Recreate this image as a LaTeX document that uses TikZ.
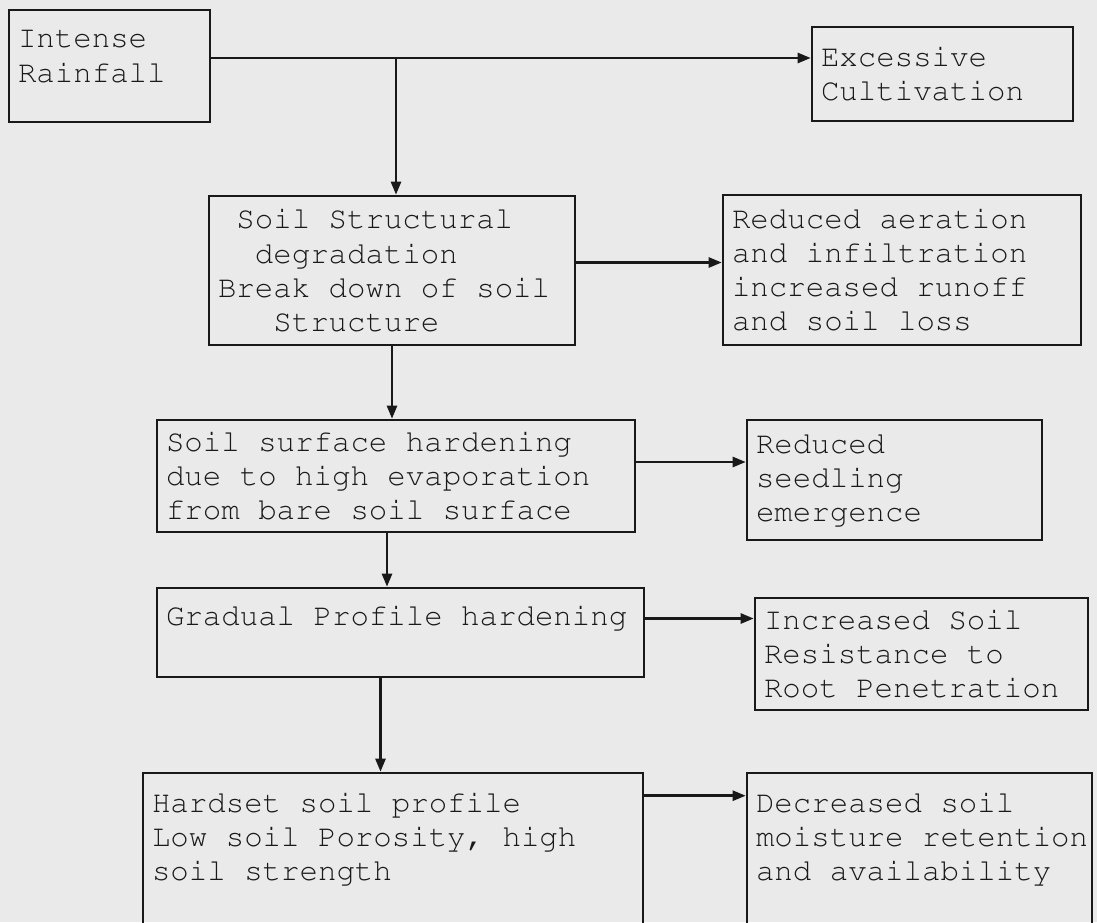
\documentclass[tikz,border=0pt]{standalone}
\usepackage[T1]{fontenc}
\usepackage{courier}
\usetikzlibrary{arrows.meta,calc}
\definecolor{paper}{RGB}{234,234,234}
\definecolor{ink}{RGB}{25,25,25}
\newcommand{\boxfont}{\ttfamily\fontsize{17.5}{19.4}\selectfont\frenchspacing}
\begin{document}
\begin{tikzpicture}[x=0.02cm, y=-0.02cm,
    box/.style={rectangle, draw=ink, line width=1.5pt, inner xsep=0.18cm, inner ysep=0pt, align=left, text=ink, font=\boxfont,
      execute at begin node={\spaceskip=\fontcharwd\font`x\relax\xspaceskip=\spaceskip}},
    arrow/.style={-{Triangle[length=0.26cm, width=0.2cm]}, draw=ink, line width=1.4pt}
]
\clip (0,0) rectangle (1097,922);
\fill[paper] (0,0) rectangle (1097,922);

\node[box, minimum width=4.02cm, minimum height=2.24cm, text width=3.66cm] (rain) at (109.5,66) {Intense\\Rainfall\\[-0.3cm]\mbox{}};
\node[box, minimum width=5.22cm, minimum height=1.88cm, text width=4.86cm] (cult) at (942.5,74) {Excessive\\Cultivation};

\node[box, minimum width=7.32cm, minimum height=2.98cm, text width=6.96cm] (struct) at (392,270.5) {\phantom{x}Soil Structural\\\phantom{xx}degradation\\Break down of soil\\\phantom{xxx}Structure};
\node[box, minimum width=7.16cm, minimum height=3.00cm, text width=6.80cm] (aer) at (902,270) {Reduced aeration\\and infiltration\\increased runoff\\and soil loss};

\node[box, minimum width=9.56cm, minimum height=2.24cm, text width=9.20cm] (surf) at (396,476) {Soil surface hardening\\due to high evaporation\\from bare soil surface};
\node[box, minimum width=5.90cm, minimum height=2.40cm, text width=5.54cm] (seed) at (894.5,480) {Reduced\\seedling\\emergence};

\node[box, minimum width=9.74cm, minimum height=1.78cm, text width=9.38cm] (grad) at (400.5,632.5) {Gradual~Profile~hardening\\\mbox{}};
\node[box, minimum width=6.66cm, minimum height=2.24cm, text width=6.30cm] (incr) at (921.5,654) {Increased Soil\\Resistance to\\Root Penetration};

\node[box, minimum width=10.0cm, minimum height=3.24cm, text width=9.64cm] (hard) at (393,854) {Hardset soil profile\\Low soil Porosity, high\\soil strength\\\mbox{}};
\node[box, minimum width=6.90cm, minimum height=3.24cm, text width=6.54cm] (decr) at (919.5,854) {Decreased soil\\moisture~retention\\and availability\\\mbox{}};

\coordinate (split) at (396,58);
\draw[arrow] (rain.east |- split) -- (cult.west |- split);
\draw[arrow] (split) -- (split |- struct.north);
\draw[arrow] ($(struct.east)+(0,-8)$) -- ($(struct.east -| aer.west)+(0,-8)$);
\draw[arrow] (struct.south) -- (struct.south |- surf.north);
\draw[arrow] ($(surf.east)+(0,-14)$) -- ($(surf.east -| seed.west)+(0,-14)$);
\draw[arrow] ($(surf.south)+(-9,0)$) -- ($(surf.south |- grad.north)+(-9,0)$);
\draw[arrow] ($(grad.east)+(0,-14)$) -- ($(grad.east -| incr.west)+(0,-14)$);
\draw[arrow] ($(grad.south)+(-20,0)$) -- ($(grad.south |- hard.north)+(-20,0)$);
\draw[arrow] ($(hard.north east)+(0,24)$) -- ($(hard.north east -| decr.west)+(0,24)$);
\end{tikzpicture}
\end{document}
